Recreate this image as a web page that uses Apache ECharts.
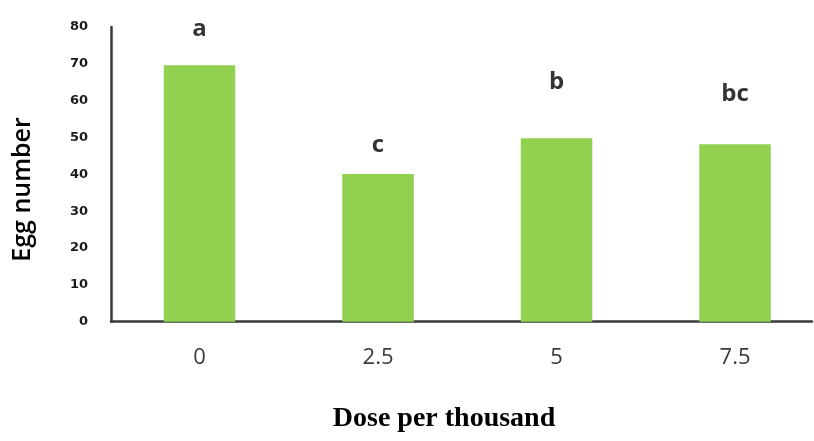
<!DOCTYPE html>
<html>
<head>
<meta charset="utf-8">
<script src="https://cdn.jsdelivr.net/npm/echarts@6/dist/echarts.min.js"></script>
<style>html,body{margin:0;padding:0;background:#fff;}#c{width:814px;height:441px;}</style>
</head>
<body>
<div id="c"></div>
<script>
const categories = ['0', '2.5', '5', '7.5'];
const doseValues = [0, 2.5, 5, 7.5];
const eggNumber = [69.6, 40.1, 49.8, 48.2];
const letters = ['a', 'c', 'b', 'bc'];
const letterPos = [79.4, 47.9, 65.1, 61.9];
const yTicks = [0, 10, 20, 30, 40, 50, 60, 70, 80];

const barData = doseValues.map((d, i) => [d, eggNumber[i]]);
const letterData = doseValues.map((d, i) => [d, letterPos[i]]);

const chart = echarts.init(document.getElementById('c'), null, {renderer: 'canvas'});
chart.setOption({
  animation: false,
  backgroundColor: '#ffffff',
  grid: {left: 111, right: 2, top: 27, bottom: 119.3, containLabel: false},
  xAxis: {
    type: 'value',
    min: -1.24,
    max: 8.578,
    splitLine: {show: false},
    axisLine: {show: true, onZero: false, lineStyle: {color: '#3a3a3a', width: 2.5}},
    axisTick: {show: false},
    axisLabel: {
      customValues: doseValues,
      formatter: v => categories[doseValues.indexOf(v)] ?? '',
      margin: 25, fontFamily: 'Open Sans', fontSize: 22, color: '#3a3a3a'
    }
  },
  yAxis: {
    type: 'value',
    min: yTicks[0],
    max: yTicks[yTicks.length - 1],
    interval: 10,
    axisLine: {show: true, onZero: false, lineStyle: {color: '#3a3a3a', width: 2.5}},
    axisTick: {show: false},
    splitLine: {show: false},
    axisLabel: {margin: 23, fontFamily: 'DejaVu Sans', fontWeight: 'bold', fontSize: 13, color: '#1a1a1a', padding: [0, 0, 15, 0]}
  },
  series: [
    {
      type: 'bar',
      data: barData,
      barWidth: 71.5,
      itemStyle: {color: '#92d050'},
      silent: true
    },
    {
      type: 'scatter',
      data: letterData,
      symbolSize: 0,
      silent: true,
      label: {
        show: true,
        position: 'inside',
        formatter: p => letters[p.dataIndex],
        fontFamily: 'Open Sans',
        fontWeight: 'bold',
        fontSize: 24,
        color: '#000'
      }
    }
  ],
  graphic: [
    {
      type: 'text',
      x: 444,
      y: 419,
      style: {
        text: 'Dose per thousand',
        fontFamily: 'Liberation Serif',
        fontWeight: 'bold',
        fontSize: 28,
        fill: '#000',
        textAlign: 'center',
        textVerticalAlign: 'middle'
      }
    },
    {
      type: 'text',
      x: 23,
      y: 189.5,
      rotation: Math.PI / 2,
      style: {
        text: 'Egg number',
        fontFamily: 'Open Sans',
        fontWeight: 600,
        fontSize: 25,
        fill: '#000',
        textAlign: 'center',
        textVerticalAlign: 'middle'
      }
    }
  ]
});
</script>
</body>
</html>
